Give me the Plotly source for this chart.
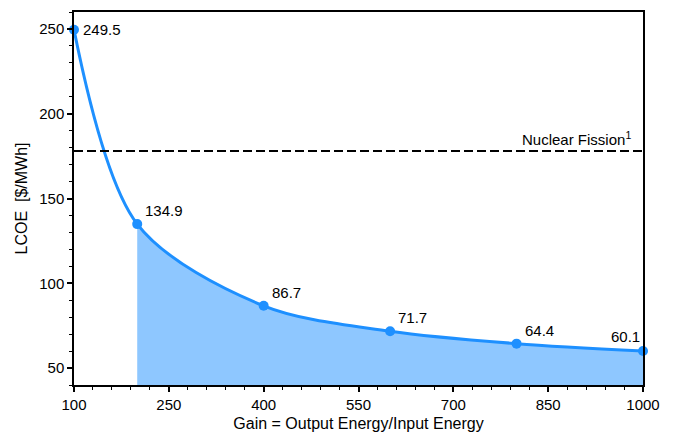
import plotly.graph_objects as go

gain = [100, 200, 400, 600, 800, 1000]
lcoe = [249.5, 134.9, 86.7, 71.7, 64.4, 60.1]
labels = ["249.5", "134.9", "86.7", "71.7", "64.4", "60.1"]
fission_lcoe = 178
fill_start = 200
x_range = [100, 1000]
y_range = [40, 260]
x_ticks = [100, 250, 400, 550, 700, 850, 1000]
y_ticks = [50, 100, 150, 200, 250]

BLUE = "#1e90ff"
FONT = "Liberation Sans, Arial, sans-serif"
SMOOTH = 0.9

fig = go.Figure()

# line + markers on the main subplot
fig.add_trace(go.Scatter(x=gain, y=lcoe, mode="lines+markers", xaxis="x", yaxis="y",
                         line=dict(color=BLUE, width=3, shape="spline", smoothing=SMOOTH),
                         marker=dict(size=10, color=BLUE), showlegend=False, cliponaxis=False))
# same spline, filled, on a subplot whose domain starts at fill_start (same scale), so it is clipped there
fig.add_trace(go.Scatter(x=gain, y=lcoe, mode="lines", xaxis="x2", yaxis="y",
                         line=dict(color=BLUE, width=0, shape="spline", smoothing=SMOOTH),
                         fill="tozeroy", fillcolor="rgba(30,144,255,0.5)", hoverinfo="skip", showlegend=False))

fig.add_shape(type="line", xref="paper", x0=0, x1=1, y0=fission_lcoe, y1=fission_lcoe, yref="y",
              line=dict(color="black", width=2, dash="9px,4px"))
fig.add_annotation(x=1, xref="paper", y=fission_lcoe, yref="y", text="Nuclear Fission<sup>1</sup>", showarrow=False,
                   xanchor="right", yanchor="bottom", yshift=1, xshift=-10,
                   font=dict(size=15, color="black", family=FONT))

for i, (g, v, t) in enumerate(zip(gain, lcoe, labels)):
    if i == len(gain) - 1:
        fig.add_annotation(x=g, y=v, text=t, showarrow=False, xanchor="right", yanchor="bottom",
                           xshift=-1, yshift=4, font=dict(size=15, color="black", family=FONT))
    elif i == 0:
        fig.add_annotation(x=g, y=v, text=t, showarrow=False, xanchor="left", yanchor="middle",
                           xshift=7, yshift=0, font=dict(size=15, color="black", family=FONT))
    else:
        fig.add_annotation(x=g, y=v, text=t, showarrow=False, xanchor="left", yanchor="bottom",
                           xshift=6, yshift=3, font=dict(size=15, color="black", family=FONT))

axis_common = dict(showgrid=False, zeroline=False, showline=True, linecolor="black", linewidth=1.5,
                   mirror=True, ticks="outside", ticklen=5, tickwidth=1.5, tickcolor="black",
                   tickfont=dict(size=15, color="black", family=FONT))
fill_domain_start = (fill_start - x_range[0]) / (x_range[1] - x_range[0])
fig.update_layout(
    xaxis=dict(range=x_range, tickvals=x_ticks, ticktext=[str(v) for v in x_ticks], domain=[0, 1], anchor="y",
               minor=dict(dtick=30, tick0=100, ticks="outside", ticklen=3, tickcolor="black", tickwidth=1),
               title=dict(text="Gain = Output Energy/Input Energy",
                          font=dict(size=16, color="black", family=FONT), standoff=6),
               **axis_common),
    xaxis2=dict(range=[fill_start, x_range[1]], domain=[fill_domain_start, 1], anchor="y", visible=False,
                showgrid=False, zeroline=False),
    yaxis=dict(range=y_range, tickvals=y_ticks, ticktext=[str(v) for v in y_ticks], anchor="x",
               minor=dict(dtick=10, tick0=40, ticks="outside", ticklen=3, tickcolor="black", tickwidth=1),
               title=dict(text="LCOE  [$/MWh]", font=dict(size=16, color="black", family=FONT), standoff=8),
               **axis_common),
    width=669, height=425, margin=dict(l=66, r=34, t=4, b=48, autoexpand=False),
    plot_bgcolor="rgba(0,0,0,0)", paper_bgcolor="white", font=dict(family=FONT),
)
fig.write_html("out.html")
